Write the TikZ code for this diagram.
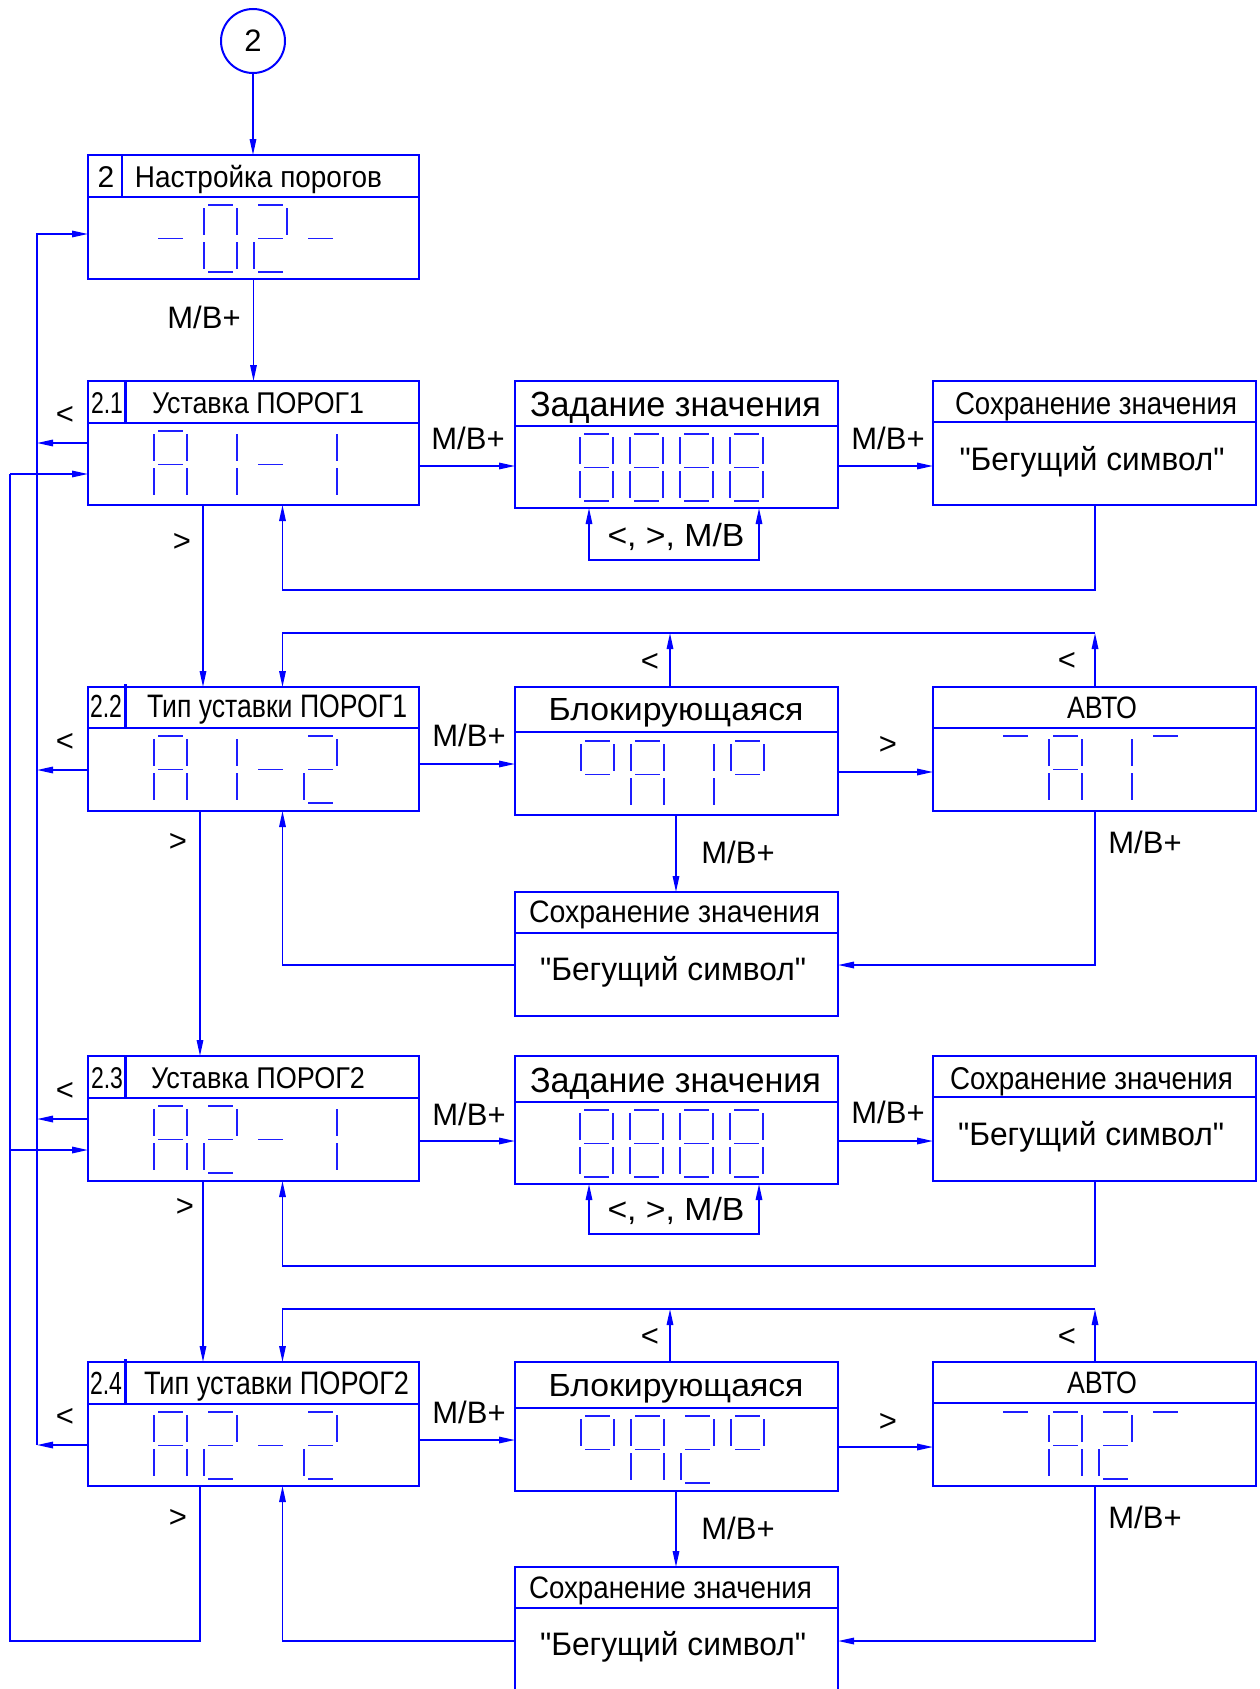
\documentclass[tikz,border=0pt]{standalone}
\usepackage{fontspec}
\setmainfont{Liberation Sans}
\usepackage{graphicx}
\usetikzlibrary{arrows.meta,calc}
\definecolor{lb}{RGB}{0,0,255}
\definecolor{sgc}{RGB}{30,30,255}
\newcommand\ftx[3]{\resizebox{#1pt}{\height}{\fontsize{#2pt}{#2pt}\selectfont #3}}
\newcommand\qq{\XeTeXglyph\XeTeXcharglyph"22\relax}
\newcommand\zsega[2]{\draw[segl] ({#1+4},{#2}) -- ({#1+29},{#2});}
\newcommand\zsegb[2]{\draw[segl] ({#1+33},{#2+3}) -- ({#1+33},{#2+30});}
\newcommand\zsegc[2]{\draw[segl] ({#1+33},{#2+37}) -- ({#1+33},{#2+64});}
\newcommand\zsegd[2]{\draw[segl] ({#1+4},{#2+67}) -- ({#1+29},{#2+67});}
\newcommand\zsege[2]{\draw[segl] ({#1},{#2+37}) -- ({#1},{#2+64});}
\newcommand\zsegf[2]{\draw[segl] ({#1},{#2+3}) -- ({#1},{#2+30});}
\newcommand\zsegg[2]{\draw[segl] ({#1+4},{#2+33.5}) -- ({#1+29},{#2+33.5});}
\newcommand\sdig[3]{\foreach \s in {#3}{\csname zseg\s\endcsname{#1}{#2}}}
\newcommand\sdisp[6]{\sdig{#1}{#2}{#3}\sdig{#1+50}{#2}{#4}\sdig{#1+100}{#2}{#5}\sdig{#1+150}{#2}{#6}}
\newcommand\mybox[6]{%
  \node[boxs, minimum width=#4pt, minimum height=#5pt] (#1) at (#2,#3) {};
  \draw[boxl] ($(#1.north west)+(0,#6)$) -- ($(#1.north east)+(0,#6)$);}
\tikzset{
  boxs/.style={draw=lb, line width=2.2pt, rectangle, anchor=north west, inner sep=0pt, outer sep=0pt},
  boxl/.style={draw=lb, line width=2.2pt},
  wire/.style={draw=lb, line width=1.6pt},
  arr/.style={wire, -{Triangle[length=16pt,width=6.5pt]}},
  arr2/.style={wire, {Triangle[length=16pt,width=6.5pt]}-{Triangle[length=16pt,width=6.5pt]}},
  segl/.style={draw=sgc, line width=1.8pt},
  txt/.style={inner sep=0pt, outer sep=0pt, text=black, anchor=base},
  lbl/.style={inner sep=0pt, outer sep=0pt, text=black, font=\fontsize{31pt}{31pt}\selectfont}
}
\begin{document}
\begin{tikzpicture}[x=1pt,y=-1pt]
\useasboundingbox (0,0) rectangle (1260,1689);
% ---------- boxes
\node[circle, draw=lb, line width=2pt, minimum size=64pt, inner sep=0pt, outer sep=0pt,
      font=\fontsize{31pt}{31pt}\selectfont] (c2) at (253,41) {2};
\mybox{b2}{88}{155}{331}{124}{42}
\mybox{b21}{88}{381}{331}{124}{42}
\mybox{z1}{515}{381}{323}{127}{45}
\mybox{s1}{933}{381}{323}{124}{41}
\mybox{b22}{88}{687}{331}{124}{41}
\mybox{k1}{515}{687}{323}{128}{45}
\mybox{a1}{933}{687}{323}{124}{41}
\mybox{s2}{515}{892}{323}{124}{41}
\mybox{b23}{88}{1056}{331}{125}{42}
\mybox{z2}{515}{1056}{323}{128}{46}
\mybox{s3}{933}{1056}{323}{125}{41}
\mybox{b24}{88}{1362}{331}{124}{42}
\mybox{k2}{515}{1362}{323}{129}{46}
\mybox{a2}{933}{1362}{323}{124}{41}
\mybox{s4}{515}{1567}{323}{125}{41}
% number cells
\draw[boxl] ($(b2.north west)+(34,0)$) -- ($(b2.north west)+(34,42)$);
\draw[boxl] ($(b21.north west)+(37.5,0)$) -- ($(b21.north west)+(37.5,42)$);
\draw[boxl] ($(b22.north west)+(37.5,-3)$) -- ($(b22.north west)+(37.5,41)$);
\draw[boxl] ($(b23.north west)+(37.5,0)$) -- ($(b23.north west)+(37.5,42)$);
\draw[boxl] ($(b24.north west)+(37.5,-3)$) -- ($(b24.north west)+(37.5,42)$);
% ---------- header texts
\node[txt] (n2) at (106,187) {\fontsize{30pt}{30pt}\selectfont 2};
\node[txt] (h2) at (258.5,187) {\ftx{247}{30}{Настройка порогов}};
\node[txt] (n21) at (107,413) {\ftx{32}{30}{2.1}};
\node[txt] (h21) at (258,413) {\ftx{212}{30}{Уставка ПОРОГ1}};
\node[txt] (hz1) at (675.5,416) {\ftx{291}{35}{Задание значения}};
\node[txt] (hs1) at (1096,414) {\ftx{282}{31.5}{Сохранение значения}};
\node[txt] (ts1) at (1092,470) {\ftx{265}{32.5}{\qq Бегущий символ\qq}};
\node[txt] (n22) at (106,717) {\ftx{32}{32}{2.2}};
\node[txt] (h22) at (277,717) {\ftx{260}{32.5}{Тип уставки ПОРОГ1}};
\node[txt] (hk1) at (676,720) {\ftx{255}{32}{Блокирующаяся}};
\node[txt] (ha1) at (1102,718) {\ftx{70}{31}{АВТО}};
\node[txt] (hs2) at (674.5,922) {\ftx{291}{31}{Сохранение значения}};
\node[txt] (ts2) at (673,980) {\ftx{266}{32.5}{\qq Бегущий символ\qq}};
\node[txt] (n23) at (107,1088) {\ftx{32}{30}{2.3}};
\node[txt] (h23) at (258,1088) {\ftx{214}{30}{Уставка ПОРОГ2}};
\node[txt] (hz2) at (675.5,1092) {\ftx{291}{35}{Задание значения}};
\node[txt] (hs3) at (1091.5,1089) {\ftx{283}{31.5}{Сохранение значения}};
\node[txt] (ts3) at (1091,1145) {\ftx{266}{32.5}{\qq Бегущий символ\qq}};
\node[txt] (n24) at (106,1394) {\ftx{32}{32}{2.4}};
\node[txt] (h24) at (276.5,1394) {\ftx{265}{32.5}{Тип уставки ПОРОГ2}};
\node[txt] (hk2) at (676,1396) {\ftx{255}{32}{Блокирующаяся}};
\node[txt] (ha2) at (1102,1393) {\ftx{70}{31}{АВТО}};
\node[txt] (hs4) at (670.5,1598) {\ftx{283}{31}{Сохранение значения}};
\node[txt] (ts4) at (673,1655) {\ftx{266}{32.5}{\qq Бегущий символ\qq}};
% ---------- seven-segment displays
\sdisp{154}{205}{g}{a,b,c,d,e,f}{a,b,g,e,d}{g}
\sdisp{154}{431}{a,b,c,e,f,g}{b,c}{g}{b,c}
\sdisp{580}{434}{a,b,c,d,e,f,g}{a,b,c,d,e,f,g}{a,b,c,d,e,f,g}{a,b,c,d,e,f,g}
\sdisp{154}{736}{a,b,c,e,f,g}{b,c}{g}{a,b,g,e,d}
\sdisp{581}{741}{a,b,f,g}{a,b,c,e,f,g}{b,c}{a,b,f,g}
\sdisp{999}{736}{a}{a,b,c,e,f,g}{b,c}{a}
\sdisp{154}{1106}{a,b,c,e,f,g}{a,b,g,e,d}{g}{b,c}
\sdisp{580}{1110}{a,b,c,d,e,f,g}{a,b,c,d,e,f,g}{a,b,c,d,e,f,g}{a,b,c,d,e,f,g}
\sdisp{154}{1412}{a,b,c,e,f,g}{a,b,g,e,d}{g}{a,b,g,e,d}
\sdisp{581}{1416}{a,b,f,g}{a,b,c,e,f,g}{a,b,g,e,d}{a,b,f,g}
\sdisp{999}{1412}{a}{a,b,c,e,f,g}{a,b,g,e,d}{a}
% ---------- guide coordinates
\coordinate (xA) at (37,0);
\coordinate (xB) at (10,0);
\coordinate (xD1) at (203,0);
\coordinate (xD2) at (200,0);
\coordinate (xU) at (282.5,0);
\coordinate (xK) at (670,0);
\coordinate (xKd) at (676,0);
\coordinate (xR) at (1095,0);
\coordinate (xZl) at (589,0);
\coordinate (xZr) at (759,0);
\coordinate (y0in) at (0,234);
\coordinate (y1o) at (0,443);
\coordinate (y1i) at (0,474);
\coordinate (y1r) at (0,466);
\coordinate (y1l) at (0,560);
\coordinate (y1b) at (0,590);
\coordinate (y2t) at (0,633);
\coordinate (y2o) at (0,770);
\coordinate (y2r) at (0,764);
\coordinate (y2ra) at (0,772);
\coordinate (y2b) at (0,965);
\coordinate (y3o) at (0,1119);
\coordinate (y3i) at (0,1150);
\coordinate (y3r) at (0,1141);
\coordinate (y3l) at (0,1234);
\coordinate (y3b) at (0,1266);
\coordinate (y4t) at (0,1309);
\coordinate (y4o) at (0,1445);
\coordinate (y4r) at (0,1440);
\coordinate (y4ra) at (0,1447);
\coordinate (y4b) at (0,1641);
% ---------- connectors
\draw[arr] (c2.south) -- (c2.south |- b2.north);
\draw[arr] (b2.south) -- (b21.north);
% collecting line (<)
\draw[arr] (xA |- y4o) -- (xA |- y0in) -- (b2.west |- y0in);
\draw[arr] (b21.west |- y1o) -- (xA |- y1o);
\draw[arr] (b22.west |- y2o) -- (xA |- y2o);
\draw[arr] (b23.west |- y3o) -- (xA |- y3o);
\draw[arr] (b24.west |- y4o) -- (xA |- y4o);
% feeding line (>)
\draw[wire] (b24.south -| xD2) -- (xD2 |- y4b) -- (xB |- y4b) -- (xB |- y1i);
\draw[arr] (xB |- y1i) -- (b21.west |- y1i);
\draw[arr] (xB |- y3i) -- (b23.west |- y3i);
% vertical chain
\draw[arr] (b21.south -| xD1) -- (b22.north -| xD1);
\draw[arr] (b22.south -| xD2) -- (b23.north -| xD2);
\draw[arr] (b23.south -| xD1) -- (b24.north -| xD1);
% row 1
\draw[arr] (b21.east |- y1r) -- (z1.west |- y1r);
\draw[arr] (z1.east |- y1r) -- (s1.west |- y1r);
\draw[arr2] (z1.south -| xZl) -- (xZl |- y1l) -- (xZr |- y1l) -- (z1.south -| xZr);
\draw[arr] (s1.south -| xR) -- (xR |- y1b) -- (xU |- y1b) -- (b21.south -| xU);
% row 2
\draw[arr] (a1.north -| xR) -- (xR |- y2t);
\draw[arr] (k1.north -| xK) -- (xK |- y2t);
\draw[arr] (xR |- y2t) -- (xU |- y2t) -- (b22.north -| xU);
\draw[arr] (b22.east |- y2r) -- (k1.west |- y2r);
\draw[arr] (k1.east |- y2ra) -- (a1.west |- y2ra);
\draw[arr] (k1.south -| xKd) -- (s2.north -| xKd);
\draw[arr] (a1.south -| xR) -- (xR |- y2b) -- (s2.east |- y2b);
\draw[arr] (s2.west |- y2b) -- (xU |- y2b) -- (b22.south -| xU);
% row 3
\draw[arr] (b23.east |- y3r) -- (z2.west |- y3r);
\draw[arr] (z2.east |- y3r) -- (s3.west |- y3r);
\draw[arr2] (z2.south -| xZl) -- (xZl |- y3l) -- (xZr |- y3l) -- (z2.south -| xZr);
\draw[arr] (s3.south -| xR) -- (xR |- y3b) -- (xU |- y3b) -- (b23.south -| xU);
% row 4
\draw[arr] (a2.north -| xR) -- (xR |- y4t);
\draw[arr] (k2.north -| xK) -- (xK |- y4t);
\draw[arr] (xR |- y4t) -- (xU |- y4t) -- (b24.north -| xU);
\draw[arr] (b24.east |- y4r) -- (k2.west |- y4r);
\draw[arr] (k2.east |- y4ra) -- (a2.west |- y4ra);
\draw[arr] (k2.south -| xKd) -- (s4.north -| xKd);
\draw[arr] (a2.south -| xR) -- (xR |- y4b) -- (s4.east |- y4b);
\draw[arr] (s4.west |- y4b) -- (xU |- y4b) -- (b24.south -| xU);
% ---------- connector labels
\node[lbl] (m0) at (204,317) {М/В+};
\node[lbl] (lt1) at (65,415) {<};
\node[lbl] (m11) at (468,438) {М/В+};
\node[lbl] (m12) at (888,438) {М/В+};
\node[lbl] (gt1) at (182,542) {>};
\node[txt] (lp1) at (676,546) {\ftx{137}{32}{<, >, М/В}};
\node[lbl] (lt2) at (65,742) {<};
\node[lbl] (m21) at (469,735) {М/В+};
\node[lbl] (lk1) at (650,662) {<};
\node[lbl] (la1) at (1067,661) {<};
\node[lbl] (gk1) at (888,745) {>};
\node[lbl] (gt2) at (178,842) {>};
\node[lbl] (m22) at (738,852) {М/В+};
\node[lbl] (m23) at (1145,842) {М/В+};
\node[lbl] (lt3) at (65,1091) {<};
\node[lbl] (m31) at (469,1114) {М/В+};
\node[lbl] (m32) at (888,1112) {М/В+};
\node[lbl] (gt3) at (185,1207) {>};
\node[txt] (lp3) at (676,1220) {\ftx{137}{32}{<, >, М/В}};
\node[lbl] (lt4) at (65,1417) {<};
\node[lbl] (m41) at (469,1412) {М/В+};
\node[lbl] (lk2) at (650,1337) {<};
\node[lbl] (la2) at (1067,1337) {<};
\node[lbl] (gk2) at (888,1422) {>};
\node[lbl] (gt4) at (178,1518) {>};
\node[lbl] (m42) at (738,1528) {М/В+};
\node[lbl] (m43) at (1145,1517) {М/В+};
\end{tikzpicture}
\end{document}
